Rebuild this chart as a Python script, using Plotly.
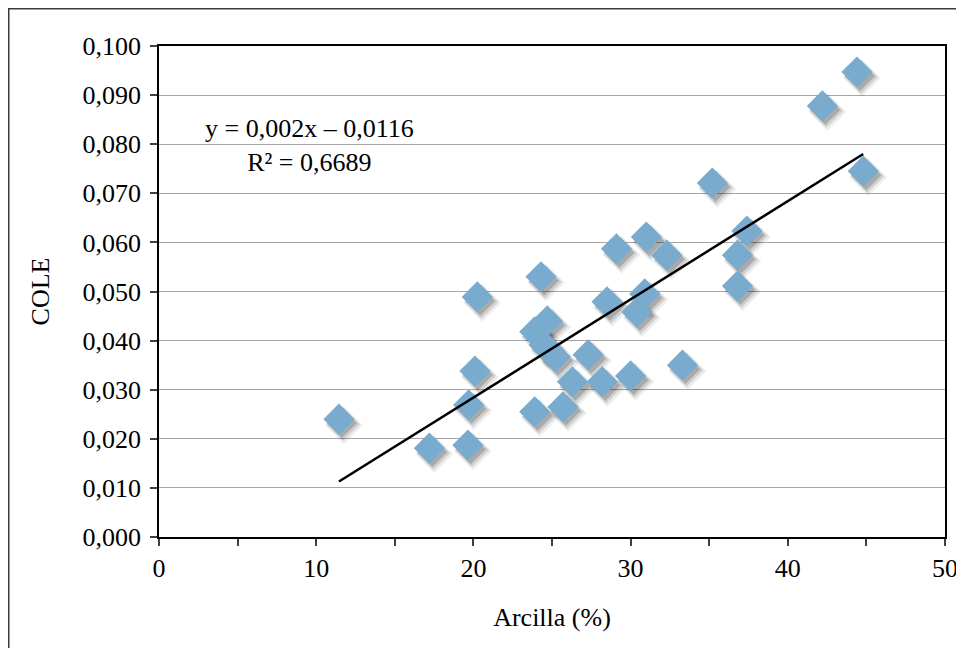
import plotly.graph_objects as go

# ---- data ----
arcilla = [11.45, 17.2, 19.65, 19.7, 20.1, 20.25, 23.9, 23.9, 24.3, 24.7, 24.5,
           25.2, 25.7, 26.3, 27.3, 28.2, 28.5, 29.1, 30.0, 30.4, 30.9, 31.0,
           32.3, 33.3, 35.2, 36.8, 36.8, 37.4, 42.2, 44.4, 44.8]
cole = [0.0240, 0.0181, 0.0187, 0.0269, 0.0338, 0.0489, 0.0255, 0.0418, 0.0530,
        0.0440, 0.0391, 0.0367, 0.0265, 0.0316, 0.0371, 0.0316, 0.0479, 0.0587,
        0.0328, 0.0458, 0.0495, 0.0611, 0.0574, 0.0350, 0.0721, 0.0511, 0.0574,
        0.0623, 0.0878, 0.0947, 0.0745]
slope = 0.002
intercept = -0.0116
eq_label = "y = 0,002x – 0,0116"
r2_label = "R² = 0,6689"
x_ticks = [0, 10, 20, 30, 40, 50]
x_title = "Arcilla (%)"
y_title = "COLE"

X_RANGE = [0, 50]
Y_RANGE = [0, 0.1]
FONT = "Liberation Serif"

# page geometry (pixels); the html body adds an 8px offset
OFF = 8
PAGE_W, PAGE_H = 964, 648
L, T, W, H = 159, 46, 786, 491          # plot area in page pixels
FW, FH = PAGE_W - OFF, PAGE_H - OFF      # figure size

def px_to_data(rng, px, length):
    return px * (rng[1] - rng[0]) / length

trend_x = [min(arcilla), max(arcilla)]
trend_y = [slope * v + intercept for v in trend_x]

fig = go.Figure()

# invisible trace on base axes so they render
fig.add_trace(go.Scatter(x=[None], y=[None], xaxis="x", yaxis="y",
                         showlegend=False, hoverinfo="skip"))

# soft shadow layers: same data drawn on pixel-offset overlay axes
shadow_layers = [(5, 6, 29, "rgba(0,0,0,0.07)"),
                 (4, 5, 26, "rgba(0,0,0,0.12)"),
                 (3, 4, 23, "rgba(0,0,0,0.18)")]
layout_axes = {}
hidden = dict(visible=False, showgrid=False, zeroline=False, fixedrange=True)
for i, (sx, sy, size, col) in enumerate(shadow_layers):
    n = i + 2
    dx = px_to_data(X_RANGE, sx, W)
    dy = px_to_data(Y_RANGE, sy, H)
    fig.add_trace(go.Scatter(x=arcilla, y=cole, mode="markers",
                             xaxis=f"x{n}", yaxis=f"y{n}",
                             marker=dict(symbol="diamond", size=size, color=col,
                                         line=dict(width=0)),
                             showlegend=False, hoverinfo="skip"))
    layout_axes[f"xaxis{n}"] = dict(range=[X_RANGE[0] - dx, X_RANGE[1] - dx],
                                    overlaying="x", **hidden)
    layout_axes[f"yaxis{n}"] = dict(range=[Y_RANGE[0] + dy, Y_RANGE[1] + dy],
                                    overlaying="y", **hidden)

m = len(shadow_layers) + 2
layout_axes[f"xaxis{m}"] = dict(range=X_RANGE, overlaying="x", **hidden)
layout_axes[f"yaxis{m}"] = dict(range=Y_RANGE, overlaying="y", **hidden)

# main markers
fig.add_trace(go.Scatter(x=arcilla, y=cole, mode="markers", xaxis=f"x{m}", yaxis=f"y{m}",
                         marker=dict(symbol="diamond", size=24, color="#78ABCE",
                                     line=dict(width=0)),
                         showlegend=False))
# trend line
fig.add_trace(go.Scatter(x=trend_x, y=trend_y, mode="lines", xaxis=f"x{m}", yaxis=f"y{m}",
                         line=dict(color="black", width=2.5),
                         showlegend=False, hoverinfo="skip"))

fig.update_layout(
    width=FW, height=FH,
    margin=dict(l=L - OFF, r=FW - (L - OFF) - W, t=T - OFF, b=FH - (T - OFF) - H,
                autoexpand=False),
    paper_bgcolor="white", plot_bgcolor="white",
    separators=", ",
    font=dict(family=FONT, size=26, color="black"),
    showlegend=False,
    xaxis=dict(range=X_RANGE, tickvals=x_ticks, ticks="outside", ticklen=7,
               tickcolor="#404040", tickwidth=1.5, automargin=False,
               minor=dict(dtick=5, ticks="outside", ticklen=7, tickcolor="#404040",
                          tickwidth=1.5, showgrid=False),
               showgrid=False, zeroline=False, showline=True, linecolor="black",
               linewidth=1.5, mirror=True,
               tickfont=dict(family=FONT, size=26),
               title=dict(text=x_title, font=dict(family=FONT, size=26), standoff=26)),
    yaxis=dict(range=Y_RANGE, dtick=0.01, tickformat=".3f", ticks="outside", ticklen=7,
               tickcolor="#404040", tickwidth=1.5, automargin=False,
               showgrid=True, gridcolor="#a6a6a6", gridwidth=1.2,
               zeroline=False, showline=True, linecolor="black", linewidth=1.5,
               mirror=True, ticklabelstandoff=4,
               tickfont=dict(family=FONT, size=26),
               title=dict(text=y_title, font=dict(family=FONT, size=26), standoff=25)),
    annotations=[dict(text=eq_label + "<br>" + r2_label, xref="paper", yref="paper",
                      x=(309 - L) / W, y=(T + H - 145) / H, xanchor="center",
                      yanchor="middle", showarrow=False, align="center",
                      font=dict(family=FONT, size=26, color="black"))],
    shapes=[dict(type="rect", xref="paper", yref="paper",
                 x0=(OFF + 0.75 - L) / W, x1=(PAGE_W + 20 - L) / W,
                 y0=(T + H - PAGE_H - 20) / H, y1=(T + H - OFF - 0.75) / H,
                 line=dict(color="#3a3a3a", width=1.5), fillcolor="rgba(0,0,0,0)",
                 layer="above")],
    **layout_axes,
)

fig.write_html("out.html")
